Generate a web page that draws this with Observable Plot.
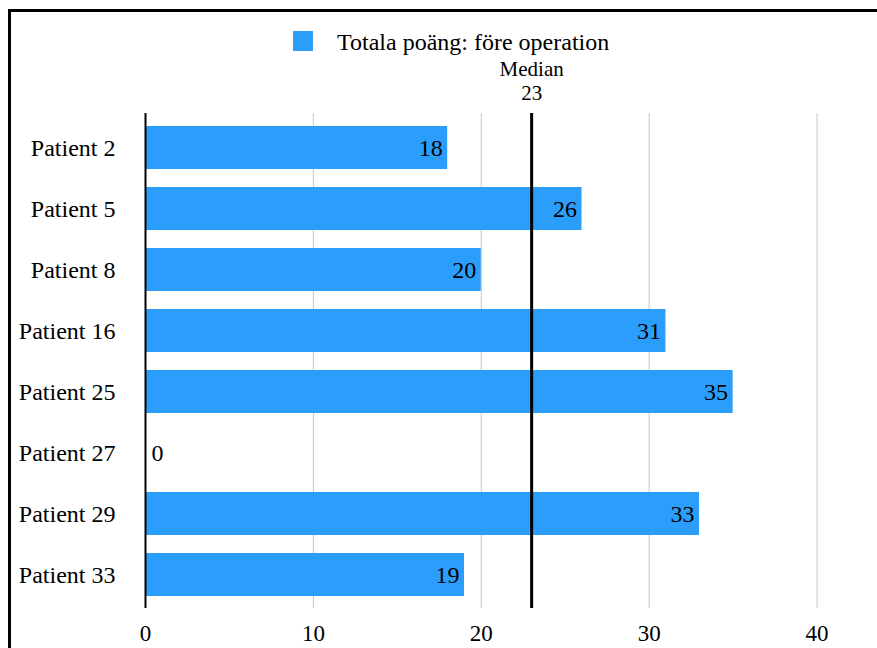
<!DOCTYPE html>
<html>
<head>
<meta charset="utf-8">
<script src="https://cdn.jsdelivr.net/npm/d3@7"></script>
<script src="https://cdn.jsdelivr.net/npm/@observablehq/plot@0.6"></script>
<style>
  html, body { margin: 0; padding: 0; background: #fff; }
  body { width: 877px; height: 648px; overflow: hidden; position: relative;
         font-family: "Liberation Serif", "Times New Roman", serif; color: #000; }
  .frame { position: absolute; left: 8px; top: 9px; width: 1000px; height: 1000px;
           border: 3px solid #000; box-sizing: border-box; pointer-events: none; }
  .legend { position: relative; height: 56px; }
  .legend .swatch { position: absolute; left: 293px; top: 31px; width: 20px; height: 20px; }
  .legend .label { position: absolute; left: 337px; top: 30px; font-size: 24px; line-height: 24px; white-space: nowrap; }
  #chart svg { display: block; }
</style>
</head>
<body>
<div class="frame"></div>
<div class="legend"><div class="swatch"></div><div class="label"></div></div>
<div id="chart"></div>
<script>
// Scores per patient before the operation
const patients = ["Patient 2", "Patient 5", "Patient 8", "Patient 16", "Patient 25", "Patient 27", "Patient 29", "Patient 33"];
const scores = [18, 26, 20, 31, 35, 0, 33, 19];
const xTicks = [0, 10, 20, 30, 40];
const seriesName = "Totala poäng: före operation";
const medianTitle = "Median";
const barColor = "#2b9efb";

const data = patients.map((patient, i) => ({patient, score: scores[i]}));
const median = d3.median(scores);

document.querySelector(".legend .swatch").style.background = barColor;
document.querySelector(".legend .label").textContent = seriesName;

const chart = Plot.plot({
  width: 877,
  height: 592,
  marginTop: 57,
  marginBottom: 40,
  marginLeft: 145,
  marginRight: 0,
  style: {fontFamily: "'Liberation Serif', 'Times New Roman', serif", fontSize: "24px", color: "#000", background: "transparent"},
  x: {domain: [0, 43.6]},
  y: {domain: patients, paddingInner: 0.3, paddingOuter: 0.15},
  marks: [
    Plot.gridX(xTicks.filter(t => t > 0), {stroke: "#c8c8c8", strokeOpacity: 1}),
    Plot.barX(data, {y: "patient", x: "score", fill: barColor}),
    Plot.ruleX([0], {stroke: "#000", strokeWidth: 2}),
    Plot.ruleX([median], {stroke: "#000", strokeWidth: 3}),
    // value labels: inside the bar end, or just right of the axis for zero
    Plot.text(data.filter(d => d.score > 0), {y: "patient", x: "score", text: d => String(d.score), textAnchor: "end", dx: -5, fontSize: 24, fill: "#000"}),
    Plot.text(data.filter(d => d.score === 0), {y: "patient", x: "score", text: d => String(d.score), textAnchor: "start", dx: 6, fontSize: 24, fill: "#000"}),
    // median annotation above the frame
    Plot.text([median], {x: d => d, frameAnchor: "top", lineAnchor: "middle", text: () => medianTitle, dy: -44, fontSize: 21, fill: "#000"}),
    Plot.text([median], {x: d => d, frameAnchor: "top", lineAnchor: "middle", text: d => String(d), dy: -20, fontSize: 21, fill: "#000"}),
    Plot.axisX({ticks: xTicks, tickSize: 0, tickPadding: 16, fontSize: 23, label: null}),
    Plot.axisY({tickSize: 0, tickPadding: 30, fontSize: 24, label: null})
  ]
});
document.getElementById("chart").appendChild(chart);
</script>
</body>
</html>
